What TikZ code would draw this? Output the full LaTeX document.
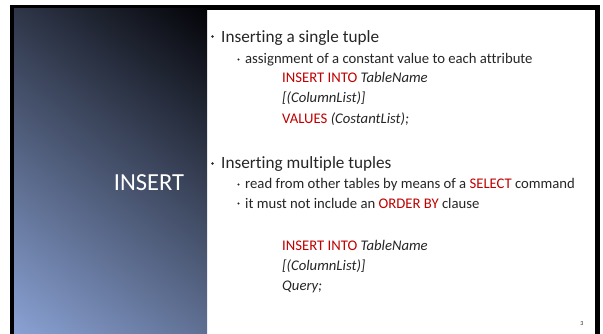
\documentclass[tikz,border=0pt]{standalone}
\usepackage{fontspec}
\setmainfont{Carlito}[Ligatures=CommonOff]
\definecolor{txt}{RGB}{38,38,38}
\definecolor{kw}{RGB}{192,0,0}
\definecolor{gdark}{RGB}{4,4,8}
\definecolor{glight}{RGB}{138,162,212}
\pgfdeclareverticalshading{panelshade}{100bp}{color(0bp)=(glight); color(15bp)=(glight); color(85bp)=(gdark); color(100bp)=(gdark)}
\tikzset{
  lvlone/.style={anchor=base west, inner sep=0pt, font=\fontsize{17.2}{21}\selectfont, text=txt},
  lvltwo/.style={anchor=base west, inner sep=0pt, font=\fontsize{14.7}{18}\selectfont, text=txt},
  bulone/.style={circle, fill=txt, inner sep=0pt, minimum size=2.6pt},
  bultwo/.style={circle, fill=txt, inner sep=0pt, minimum size=2.2pt},
}
\newcommand{\kwd}[1]{\textcolor{kw}{#1}}
\begin{document}
\begin{tikzpicture}[x=1pt,y=-1pt]
\useasboundingbox (0,0) rectangle (603,334);
\fill[white] (0,0) rectangle (603,334);
% frame
\fill[black] (10,5) rectangle (600,334);
\fill[white] (207,10) rectangle (595,334);
% gradient panel
\shade[shading=panelshade, shading angle=-38] (14,9) rectangle (207,334);
\node[anchor=base, inner sep=0pt, text=white, font=\fontsize{24.5}{28}\selectfont] (title) at (149,191) {INSERT};

% first block
\node[bulone] (b1) at (212.5,36.5) {};
\node[lvlone] (t1) at (221,42.5) {Inserting a single tuple};
\node[bultwo] (b2) at (238.5,59.5) {};
\node[lvltwo] (t2) at (245,64) {assignment of a constant value to each attribute};
\node[lvltwo] (c1) at (282,82.5) {\kwd{INSERT INTO} \textit{TableName}};
\node[lvltwo] (c2) at (282,102.5) {\textit{[(ColumnList)]}};
\node[lvltwo] (c3) at (282,123.5) {\kwd{VALUES} \textit{(CostantList);}};

% second block
\node[bulone] (b3) at (212.5,163.5) {};
\node[lvlone] (t3) at (221,169) {Inserting multiple tuples};
\node[bultwo] (b4) at (238.5,184.5) {};
\node[lvltwo] (t4) at (245,189) {read from other tables by means of a \kwd{SELECT} command};
\node[bultwo] (b5) at (238.5,203.5) {};
\node[lvltwo] (t5) at (245,208) {it must not include an \kwd{ORDER BY} clause};
\node[lvltwo] (c4) at (282,250.5) {\kwd{INSERT INTO} \textit{TableName}};
\node[lvltwo] (c5) at (282,270) {\textit{[(ColumnList)]}};
\node[lvltwo] (c6) at (282,290) {\textit{Query;}};

\node[anchor=base, inner sep=0pt, text=txt, font=\fontsize{6}{7}\selectfont] (pg) at (582,325) {3};
\end{tikzpicture}
\end{document}
